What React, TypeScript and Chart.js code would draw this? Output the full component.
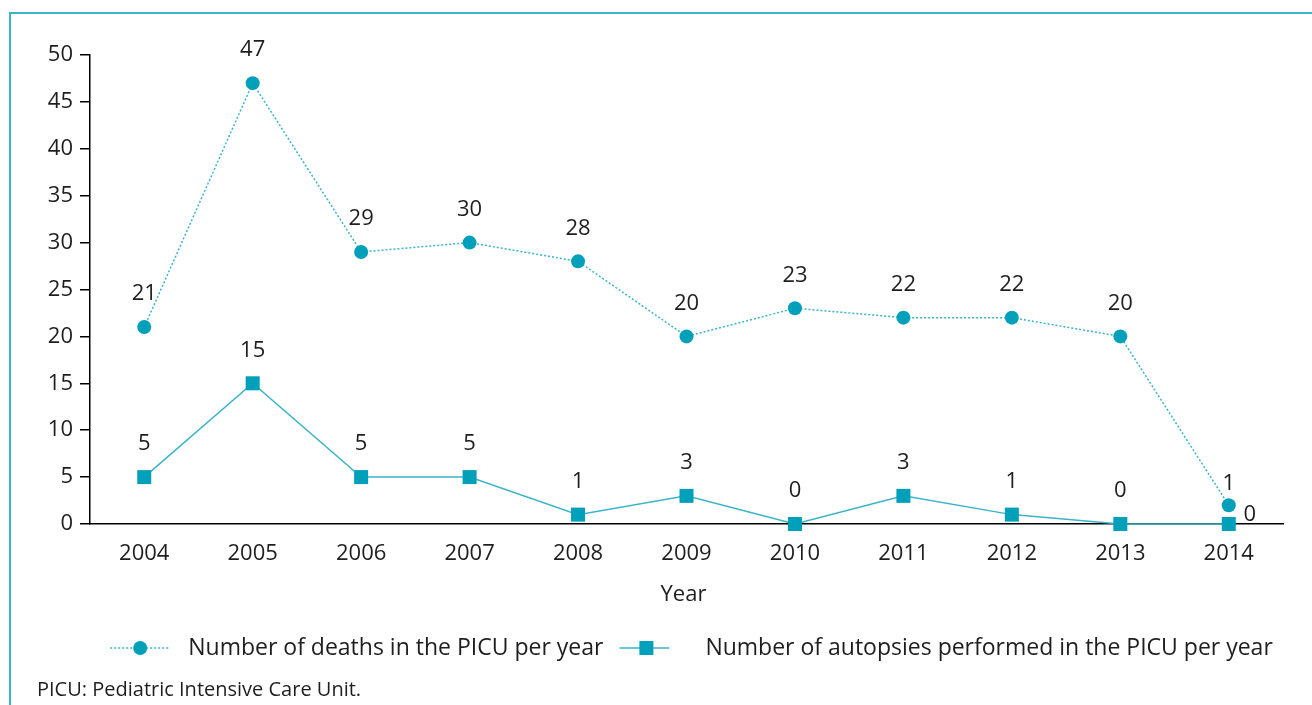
import React, { useEffect, useRef } from "react";
import { Chart, registerables } from "chart.js";

Chart.register(...registerables);

const years = ["2004", "2005", "2006", "2007", "2008", "2009", "2010", "2011", "2012", "2013", "2014"];
const deaths = [21, 47, 29, 30, 28, 20, 23, 22, 22, 20, 2];
const deathLabels = ["21", "47", "29", "30", "28", "20", "23", "22", "22", "20", "1"];
const autopsies = [5, 15, 5, 5, 1, 3, 0, 3, 1, 0, 0];
const autopsyLabels = ["5", "15", "5", "5", "1", "3", "0", "3", "1", "0", "0"];
const legendLabels = [
  "Number of deaths in the PICU per year",
  "Number of autopsies performed in the PICU per year",
];
const xTitle = "Year";
const footnote = "PICU: Pediatric Intensive Care Unit.";
const yMin = 0;
const yMax = 50;
const yStep = 5;

const MARK = "#00a0ba";
const LINE = "#3ab4c8";
const TEXT = "#1e1e1e";
const FONT = "'Open Sans'";
const FS = 22;

const labelPlugin = {
  id: "valueLabels",
  afterDatasetsDraw(chart: any) {
    const ctx = chart.ctx;
    ctx.save();
    ctx.font = `${FS}px ${FONT}`;
    ctx.fillStyle = TEXT;
    ctx.textAlign = "center";
    ctx.textBaseline = "middle";
    const sets = [deathLabels, autopsyLabels];
    chart.data.datasets.forEach((_: any, di: number) => {
      const meta = chart.getDatasetMeta(di);
      meta.data.forEach((pt: any, i: number) => {
        let dx = 0;
        let dy = -33;
        const last = i === meta.data.length - 1;
        if (last && di === 0) dy = -22;
        if (last && di === 1) {
          dx = 21;
          dy = -9;
        }
        ctx.fillText(sets[di][i], pt.x + dx, pt.y + dy);
      });
    });
    ctx.restore();
  },
};

const extrasPlugin = {
  id: "extras",
  afterDraw(chart: any) {
    const ctx = chart.ctx;
    const area = chart.chartArea;
    ctx.save();
    // x title
    ctx.font = `${FS}px ${FONT}`;
    ctx.fillStyle = TEXT;
    ctx.textAlign = "center";
    ctx.textBaseline = "middle";
    ctx.fillText(xTitle, (area.left + area.right) / 2 - 3, area.bottom + 71);

    // legend
    ctx.font = `23px ${FONT}`;
    const w1 = ctx.measureText(legendLabels[0]).width;
    const w2 = ctx.measureText(legendLabels[1]).width;
    const total = 58 + 20 + w1 + 16 + 50 + 36 + w2;
    let x = (area.left + area.right) / 2 + 5 - total / 2;
    const ly = area.bottom + 124;
    // item 1
    ctx.strokeStyle = LINE;
    ctx.lineWidth = 1.5;
    ctx.setLineDash([2, 2]);
    ctx.beginPath();
    ctx.moveTo(x, ly);
    ctx.lineTo(x + 58, ly);
    ctx.stroke();
    ctx.setLineDash([]);
    ctx.fillStyle = MARK;
    ctx.beginPath();
    ctx.arc(x + 30, ly, 7, 0, Math.PI * 2);
    ctx.fill();
    x += 58 + 20;
    ctx.fillStyle = TEXT;
    ctx.textAlign = "left";
    ctx.fillText(legendLabels[0], x, ly);
    x += w1 + 16;
    // item 2
    ctx.strokeStyle = LINE;
    ctx.lineWidth = 1.5;
    ctx.beginPath();
    ctx.moveTo(x, ly);
    ctx.lineTo(x + 50, ly);
    ctx.stroke();
    ctx.fillStyle = MARK;
    ctx.fillRect(x + 27 - 7, ly - 7, 14, 14);
    x += 50 + 36;
    ctx.fillStyle = TEXT;
    ctx.fillText(legendLabels[1], x, ly);

    // footnote
    ctx.font = `20px ${FONT}`;
    ctx.fillText(footnote, 37, area.bottom + 166);
    ctx.restore();
  },
};

export default function App() {
  const ref = useRef<HTMLCanvasElement | null>(null);
  useEffect(() => {
    if (!ref.current) return;
    const chart = new Chart(ref.current, {
      type: "line",
      data: {
        labels: years,
        datasets: [
          {
            label: legendLabels[0],
            data: deaths,
            borderColor: LINE,
            borderWidth: 1.5,
            borderDash: [2, 2],
            pointStyle: "circle",
            pointRadius: 7,
            pointBackgroundColor: MARK,
            pointBorderColor: MARK,
            pointBorderWidth: 0,
            fill: false,
            tension: 0,
            clip: false,
          },
          {
            label: legendLabels[1],
            data: autopsies,
            borderColor: LINE,
            borderWidth: 1.5,
            pointStyle: "rect",
            pointRadius: 7 * Math.SQRT2,
            pointBackgroundColor: MARK,
            pointBorderColor: MARK,
            pointBorderWidth: 0,
            fill: false,
            tension: 0,
            clip: false,
          },
        ],
      },
      options: {
        responsive: false,
        animation: false,
        layout: { padding: { top: 55, right: 29, left: 0, bottom: 0 } },
        plugins: {
          legend: { display: false },
          tooltip: { enabled: false },
        },
        scales: {
          x: {
            type: "category",
            offset: true,
            grid: { display: false },
            border: { display: true, color: "#000", width: 1.5 },
            ticks: { color: TEXT, font: { family: FONT, size: FS }, padding: 9 },
            afterFit: (s: any) => {
              s.height = 181;
            },
          },
          y: {
            min: yMin,
            max: yMax,
            ticks: { stepSize: yStep, color: TEXT, font: { family: FONT, size: FS }, padding: 7 },
            grid: { drawOnChartArea: false, drawTicks: true, tickLength: 10, color: "#000", lineWidth: 1.5 },
            border: { display: true, color: "#000", width: 1.5 },
            afterFit: (s: any) => {
              s.width = 90;
            },
          },
        },
      },
      plugins: [labelPlugin, extrasPlugin],
    });
    return () => chart.destroy();
  }, []);

  return (
    <div style={{ position: "absolute", left: 0, top: 0, width: 1312, height: 705, background: "#fff" }}>
      <div
        style={{
          position: "absolute",
          left: 9,
          top: 12,
          width: 1303,
          height: 693,
          borderLeft: "2px solid #3ab4c8",
          borderTop: "2px solid #3ab4c8",
          boxSizing: "border-box",
        }}
      />
      <canvas ref={ref} width={1312} height={705} style={{ position: "absolute", left: 0, top: 0, display: "block" }} />
    </div>
  );
}
